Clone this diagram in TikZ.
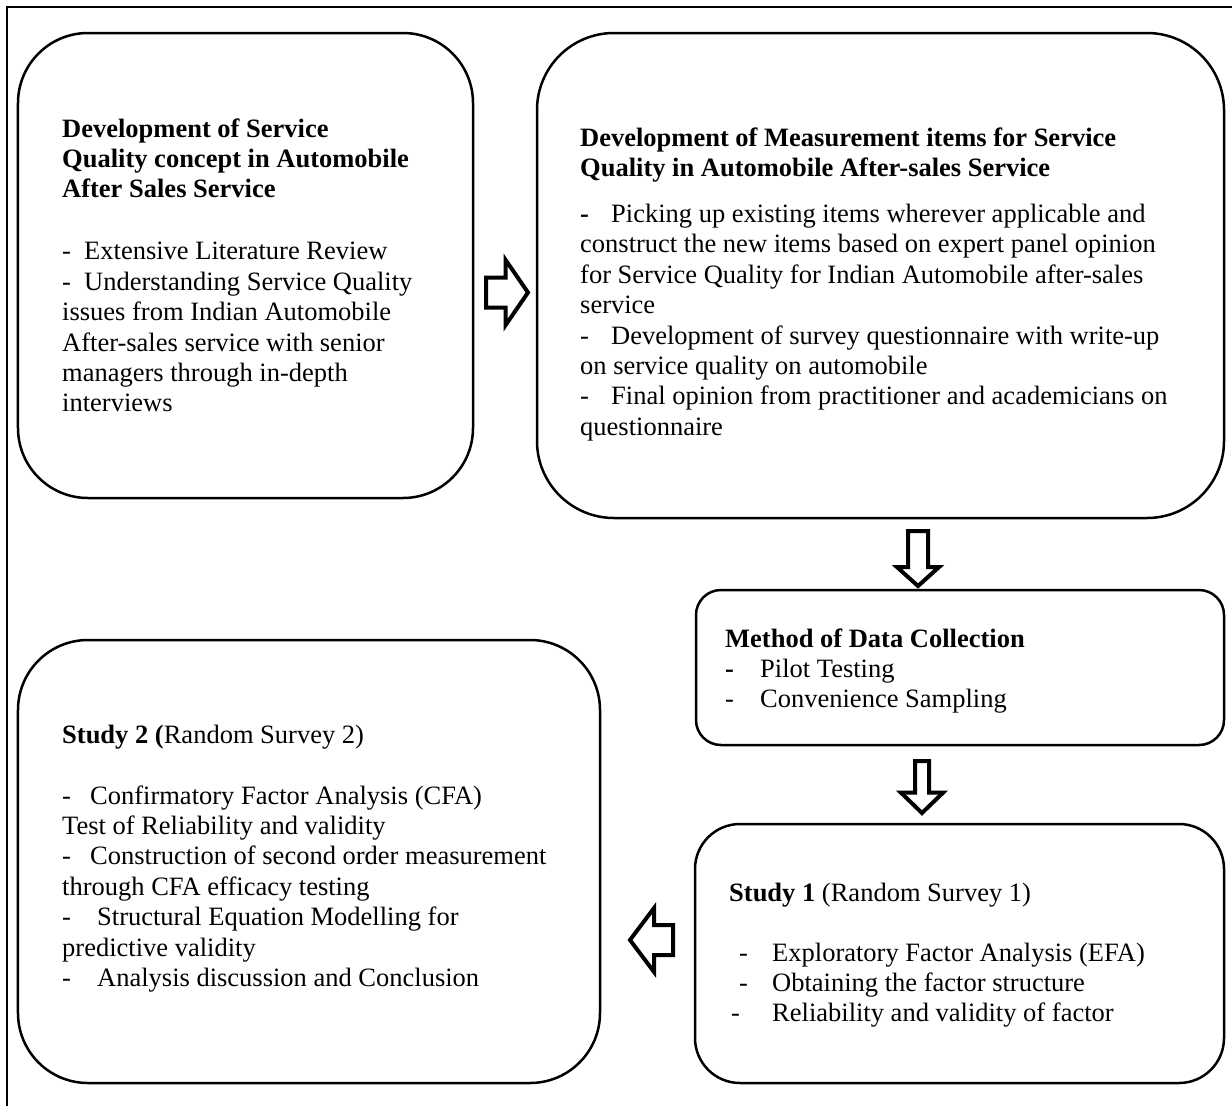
\documentclass[tikz,border=0pt]{standalone}
\usepackage{fontspec}
\setmainfont{Liberation Serif}
\usetikzlibrary{shapes.arrows}
% dash followed by a fixed gap before the item text
\newcommand\dsh[1]{\makebox[#1][l]{-}}
\newcommand\bdsh[1]{\makebox[#1][l]{\textbf{-}}}

\begin{document}
\begin{tikzpicture}[x=1bp,y=-1bp,
  box/.style={draw, line width=2.5bp, inner sep=0pt, minimum width=0pt, minimum height=0pt},
  % texts are placed by the baseline of their last line
  txt/.style={anchor=base west, align=left, inner sep=0pt,
    font=\fontsize{26.5bp}{30.4bp}\selectfont},
  blockarrow/.style={single arrow, draw, line width=4bp, fill=white,
    inner xsep=0pt, minimum width=0pt, single arrow head indent=0pt, anchor=tail},
  frame/.style={line width=2.5bp}]

\useasboundingbox (0,0) rectangle (1232,1106);

% page frame
\draw[frame] (7,1106) -- (7,7) -- (1232,7);

% boxes
\node[box, minimum width=455bp, minimum height=465bp, rounded corners=70bp] (b1) at (245.5,265.5) {};
\node[box, minimum width=687bp, minimum height=485bp, rounded corners=77bp] (b2) at (880.5,275.5) {};
\node[box, minimum width=528bp, minimum height=155bp, rounded corners=25bp] (b3) at (960,667.5) {};
\node[box, minimum width=529bp, minimum height=259bp, rounded corners=45bp] (b4) at (959.5,953.5) {};
\node[box, minimum width=582bp, minimum height=443bp, rounded corners=70bp] (b5) at (309,861.5) {};

% box texts
\node[txt] (t1) at (62,411.8) {\textbf{Development of Service}\\
  \textbf{Quality concept in Automobile}\\
  \textbf{After Sales Service}\\[31.6bp]
  \dsh{22bp}Extensive Literature Review\\
  \dsh{22bp}Understanding Service Quality\\
  issues from Indian Automobile\\
  After-sales service with senior\\
  managers through in-depth\\
  interviews};

\node[txt] (t2) at (580,435.2) {\textbf{Development of Measurement items for Service}\\
  \textbf{Quality in Automobile After-sales Service}\\[15.6bp]
  \bdsh{31bp}Picking up existing items wherever applicable and\\
  construct the new items based on expert panel opinion\\
  for Service Quality for Indian Automobile after-sales\\
  service\\
  \dsh{31bp}Development of survey questionnaire with write-up\\
  on service quality on automobile\\
  \dsh{31bp}Final opinion from practitioner and academicians on\\
  questionnaire};

\node[txt] (t3) at (725,707.8) {\textbf{Method of Data Collection}\\
  \bdsh{35bp}Pilot Testing\\
  \dsh{35bp}Convenience Sampling};

\node[txt] (t4) at (729,1021.8) {\textbf{Study 1} (Random Survey 1)\\[29.6bp]
  \hspace*{10bp}\dsh{33bp}Exploratory Factor Analysis (EFA)\\
  \hspace*{10bp}\dsh{33bp}Obtaining the factor structure\\
  \hspace*{2bp}\dsh{41bp}Reliability and validity of factor};

\node[txt] (t5) at (62,986.4) {\textbf{Study 2 (}Random Survey 2)\\[30.6bp]
  \dsh{28bp}Confirmatory Factor Analysis (CFA)\\
  Test of Reliability and validity\\
  \dsh{28bp}Construction of second order measurement\\
  through CFA efficacy testing\\
  \dsh{35bp}Structural Equation Modelling for\\
  predictive validity\\
  \dsh{35bp}Analysis discussion and Conclusion};

% block arrows between the boxes
\node[blockarrow, minimum height=42bp, inner ysep=13bp,
  single arrow head extend=17.5bp, single arrow tip angle=111] (a1) at (484,292.5) {};
\node[blockarrow, rotate=-90, minimum height=55bp, inner ysep=8bp,
  single arrow head extend=11bp, single arrow tip angle=96] (a2) at (918,529) {};
\node[blockarrow, rotate=-90, minimum height=52bp, inner ysep=5bp,
  single arrow head extend=14bp, single arrow tip angle=92] (a3) at (922,759) {};
\node[blockarrow, rotate=180, minimum height=43bp, inner ysep=13bp,
  single arrow head extend=17bp, single arrow tip angle=106] (a4) at (675,940) {};

\end{tikzpicture}
\end{document}
